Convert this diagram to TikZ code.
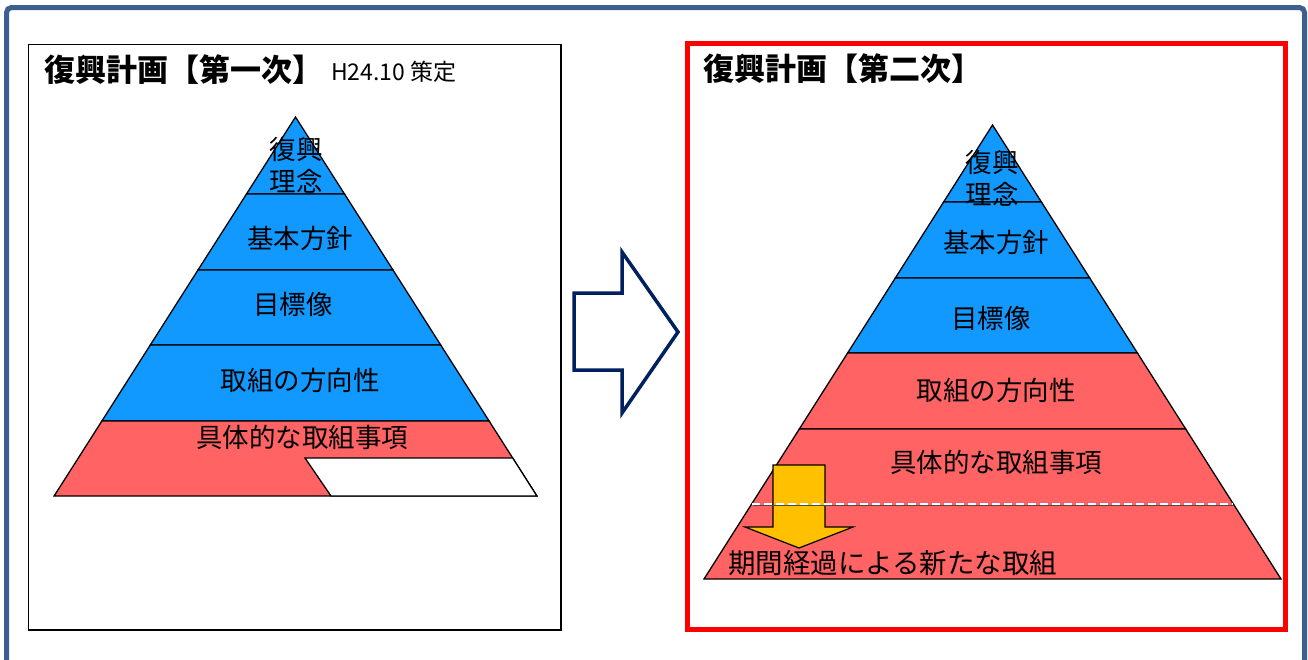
\documentclass[tikz,border=0pt]{standalone}
\usepackage{fontspec}
\setmainfont{Noto Sans CJK JP}
\definecolor{framecol}{RGB}{61,95,143}
\definecolor{pyblue}{RGB}{17,153,255}
\definecolor{pyred}{RGB}{255,99,99}
\definecolor{navy}{RGB}{0,32,96}
\definecolor{arrowyellow}{RGB}{255,192,0}
\begin{document}
\begin{tikzpicture}[x=1pt,y=-1pt,
  frameline/.style={draw=framecol,line width=5pt,rounded corners=5pt},
  band/.style={draw=black,line width=1.3pt,line join=miter},
  blueband/.style={band,fill=pyblue},
  redband/.style={band,fill=pyred},
  lbl/.style={font=\fontsize{26.5}{32}\selectfont,inner sep=0pt,align=center},
  ttl/.style={font=\fontsize{31}{34}\selectfont\bfseries,inner sep=0pt,anchor=west},
]
\useasboundingbox (0,0) rectangle (1308,659);
\fill[white] (0,0) rectangle (1308,659);
% outer frame
\draw[frameline] (6.5,720) -- (6.5,7.5) -- (1304.5,7.5) -- (1304.5,720);
% left box
\draw[black,line width=1.5pt] (28.5,44.5) rectangle (561,630);
% right box
\draw[red,line width=5pt] (687.5,43) rectangle (1285.5,629);

% ---------- left pyramid ----------
\draw[blueband] (295.5,117) -- (344.5,194) -- (246.5,194) -- cycle;
\draw[blueband] (246.5,194) -- (344.5,194) -- (393,270) -- (198,270) -- cycle;
\draw[blueband] (198,270) -- (393,270) -- (440.7,345) -- (150.3,345) -- cycle;
\draw[blueband] (150.3,345) -- (440.7,345) -- (489.1,421) -- (101.9,421) -- cycle;
\draw[redband] (101.9,421) -- (489.1,421) -- (536.9,496) -- (54.1,496) -- cycle;
\draw[band,fill=white] (305,458) -- (512.7,458) -- (536.9,496) -- (331,496) -- cycle;

\node[lbl] (L1) at (296,165) {復興\\理念};
\node[lbl] (L2) at (300,238) {基本方針};
\node[lbl] (L3) at (293,304) {目標像};
\node[lbl] (L4) at (300,380) {取組の方向性};
\node[lbl] (L5) at (302,437) {具体的な取組事項};

% ---------- titles ----------
\node[ttl] (T1) at (44,70) {復興計画【第一次】};
\node[font=\fontsize{23}{25}\selectfont,inner sep=0pt,anchor=west] (T1b) at (331,72) {H24.10 策定};
\node[ttl] (T2) at (703,69) {復興計画【第二次】};

% ---------- hollow arrow ----------
\draw[navy,line width=3.5pt,fill=white,line join=miter]
  (574,293) -- (622,293) -- (622,252) -- (678,332) -- (622,413) -- (622,370) -- (574,370) -- cycle;

% ---------- right pyramid ----------
\draw[blueband] (992.5,125) -- (1041.4,202) -- (943.6,202) -- cycle;
\draw[blueband] (943.6,202) -- (1041.4,202) -- (1089.7,278) -- (895.3,278) -- cycle;
\draw[blueband] (895.3,278) -- (1089.7,278) -- (1137.4,353) -- (847.6,353) -- cycle;
\draw[redband] (847.6,353) -- (1137.4,353) -- (1185.7,429) -- (799.3,429) -- cycle;
\draw[redband] (799.3,429) -- (1185.7,429) -- (1281,579) -- (704,579) -- cycle;

% yellow arrow
\draw[black,line width=1.2pt,fill=arrowyellow,line join=miter]
  (773,465) -- (825,465) -- (825,527) -- (853,527) -- (799,548) -- (745,527) -- (773,527) -- cycle;

% dashed separator
\draw[black!70,line width=0.7pt] (752.5,505.5) -- (1232.5,505.5);
\draw[white,line width=2pt,dash pattern=on 8pt off 4pt] (752,503.5) -- (1233,503.5);

\node[lbl] (R1) at (992,178) {復興\\理念};
\node[lbl] (R2) at (996,242) {基本方針};
\node[lbl] (R3) at (991,318) {目標像};
\node[lbl] (R4) at (996,390) {取組の方向性};
\node[lbl] (R5) at (996,462) {具体的な取組事項};
\node[lbl,anchor=west,font=\fontsize{27.5}{32}\selectfont] (R6) at (728,563) {期間経過による新たな取組};
\end{tikzpicture}
\end{document}
